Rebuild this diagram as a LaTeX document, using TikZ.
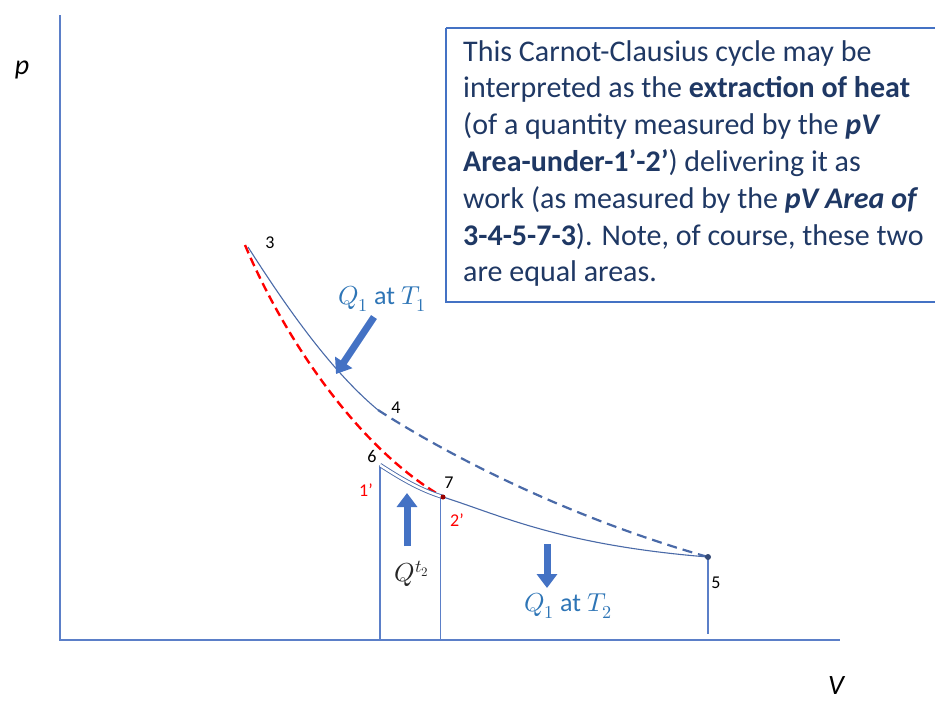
\documentclass[tikz,border=0pt]{standalone}
\usepackage{fontspec}
\setmainfont{Carlito}
\usepackage{unicode-math}
\setmathfont{Latin Modern Math}
\usetikzlibrary{arrows.meta}
\definecolor{axisblue}{HTML}{5B7FC8}
\definecolor{curveblue}{HTML}{4A6AA8}
\definecolor{boxblue}{HTML}{4472C4}
\definecolor{navy}{HTML}{1F3864}
\definecolor{qblue}{HTML}{2E75B6}
\definecolor{arrblue}{HTML}{4472C4}
\definecolor{redd}{HTML}{FF0000}
\tikzset{
  axis/.style={axisblue, line width=1.3pt},
  vline/.style={axisblue, line width=1.3pt},
  curve/.style={curveblue, line width=1.1pt},
  dcurve/.style={curveblue, line width=2.2pt, dash pattern=on 10pt off 6pt},
  rcurve/.style={redd, line width=2.4pt, dash pattern=on 9pt off 5pt},
  num/.style={font=\fontsize{18}{18}\selectfont, text=black, inner sep=0pt},
  rnum/.style={font=\fontsize{18}{18}\selectfont, text=redd, inner sep=0pt},
  qlab/.style={font=\fontsize{26}{26}\selectfont, text=qblue, inner sep=0pt},
  blockarrow/.style={arrblue, line width=7pt, -{Triangle[width=20pt,length=14pt]}},
  dot/.style={circle, fill=#1, inner sep=0pt, minimum size=6pt},
}
\begin{document}
\begin{tikzpicture}[x=1pt,y=-1pt]
\useasboundingbox (0,0) rectangle (935,702);
% axes
\draw[axis] (60,15) -- (60,640) -- (840,640);
\node[font=\fontsize{28}{28}\selectfont\itshape, inner sep=0pt] (plab) at (22,70) {p};
\node[font=\fontsize{28}{28}\selectfont\itshape, inner sep=0pt] (vlab) at (836,686) {V};
% points
\coordinate (p3) at (248,247);
\coordinate (p4) at (378,410);
\coordinate (p5) at (708,557);
\coordinate (p6) at (380,465);
\coordinate (p7) at (443,497);
\coordinate (t7) at (440.5,497);
\coordinate (b6) at (380,640);
\coordinate (b7) at (440.5,640);
\coordinate (b5) at (708,634);
% vertical lines
\draw[vline] (p6) -- (b6);
\draw[vline] (t7) -- (b7);
\draw[vline] (p5) -- (b5);
% red dashed 3-7
\draw[rcurve] (245,245) .. controls (285,340) and (360,450) .. (p7);
% solid 3-4
\draw[curve] (p3) .. controls (285,305) and (330,370) .. (p4);
% dashed 4-5
\draw[dcurve] (p4) .. controls (440,450) and (560,515) .. (p5);
% double line 6-7
\draw[curveblue, double=white, double distance=2.5pt, line width=0.9pt] (p6) .. controls (400,478) and (420,490) .. (p7);
% solid 7-5
\draw[curve] (p7) .. controls (500,515) and (560,545) .. (p5);
% dots
\node[dot=curveblue!70!black] (d5) at (p5) {};
\node[dot=red!60!black, minimum size=5pt] (d7) at (p7) {};
% labels
\node[num] (l3) at (270,243) {3};
\node[num] (l4) at (396,408) {4};
\node[num] (l5) at (716,583) {5};
\node[num] (l6) at (372,456) {6};
\node[num] (l7) at (449,483) {7};
\node[rnum] (l1p) at (366,490) {1’};
\node[rnum] (l2p) at (457,520) {2’};
% block arrows
\coordinate (a1s) at (374,317);
\coordinate (a1e) at (336,374);
\draw[blockarrow] (a1s) -- (a1e);
\coordinate (a2s) at (407,546);
\coordinate (a2e) at (407,493);
\draw[blockarrow] (a2s) -- (a2e);
\coordinate (a3s) at (547,544);
\coordinate (a3e) at (547,588);
\draw[blockarrow] (a3s) -- (a3e);
% Q labels
\node[qlab, anchor=west] (q1) at (338,299) {$Q_1$ at $T_1$};
\node[qlab, anchor=west] (q2) at (524,606) {$Q_1$ at $T_2$};
\node[font=\fontsize{26}{26}\selectfont, text=black!85, inner sep=0pt] (qt) at (412,574) {$Q^{t_2}$};
% text box
\draw[boxblue, line width=2.4pt] (446,28) -- (945,28) (446,28) -- (446,302) -- (945,302);
\node[anchor=north west, inner sep=0pt, text=navy, align=left, font=\fontsize{30}{36.8}\selectfont] (txt) at (463,40) {%
This Carnot-Clausius cycle may be\\
interpreted as the \textbf{extraction of heat}\\
(of a quantity measured by the \textbf{\itshape pV}\\
\textbf{Area-under-1’-2’}) delivering it as\\
work (as measured by the \textbf{\itshape pV Area of}\\
\textbf{3-4-5-7-3}). Note, of course, these two\\
are equal areas.};
\end{tikzpicture}
\end{document}
